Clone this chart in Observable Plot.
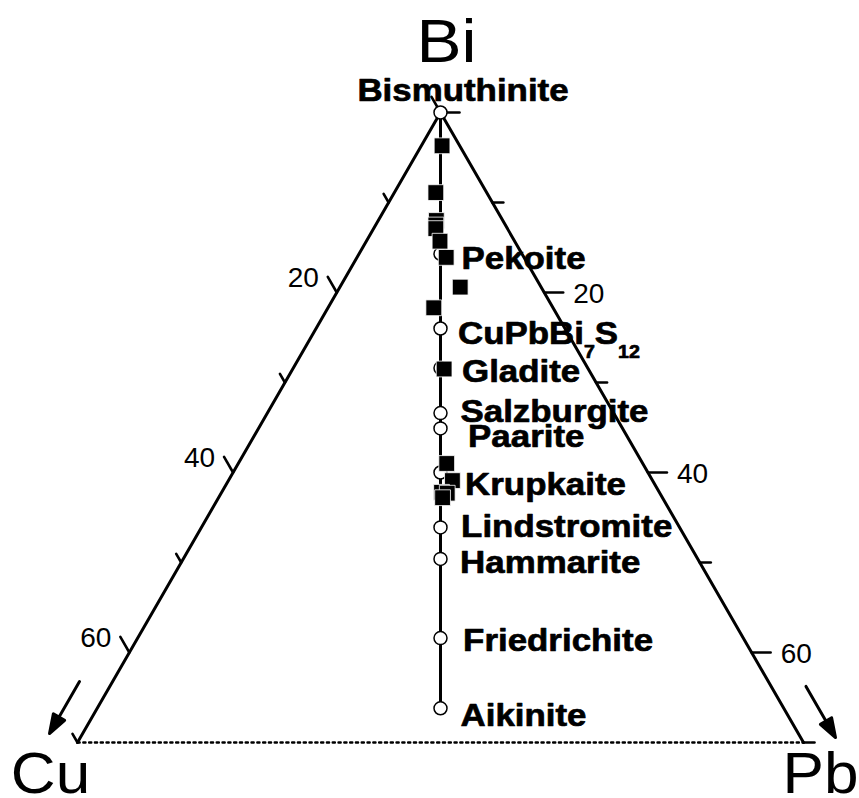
<!DOCTYPE html>
<html>
<head>
<meta charset="utf-8">
<script src="https://cdn.jsdelivr.net/npm/d3@7"></script>
<script src="https://cdn.jsdelivr.net/npm/@observablehq/plot@0.6"></script>
<style>
  html, body { margin: 0; padding: 0; background: #fff; }
  svg { display: block; }
</style>
</head>
<body>
<div id="chart"></div>
<script>
// ---------------- DATA (atomic %, Cu + Pb + Bi = 100) ----------------
// Reference minerals on the bismuthinite–aikinite join
const mineralNames = ["Bismuthinite", "Pekoite", "CuPbBi7S12", "Gladite", "Salzburgite", "Paarite",
                      "Krupkaite", "Lindstromite", "Hammarite", "Friedrichite", "Aikinite"];
const mineralCu = [0, 7.85, 12.0, 14.2, 16.7, 17.55, 20.0, 23.05, 24.8, 29.2, 33.1];
const mineralPb = [0, 7.85, 12.0, 14.2, 16.7, 17.55, 20.0, 23.05, 24.8, 29.2, 33.1];
const mineralBi = [100, 84.3, 76.0, 71.6, 66.6, 64.9, 60.0, 53.9, 50.4, 41.6, 33.8];

// Measured analyses (filled squares)
const analysisCu = [1.7, 4.9, 6.4, 6.7, 6.9, 7.2, 7.5, 7.8, 11.5, 13.9, 18.9, 19.3, 21.0, 20.5, 21.2];
const analysisPb = [2.0, 4.0, 5.6, 5.8, 6.0, 7.1, 8.6, 11.6, 10.2, 14.6, 20.1, 21.6, 21.2, 21.8, 21.6];
const analysisBi = [96.3, 91.1, 88.0, 87.5, 87.1, 85.7, 83.9, 80.6, 78.3, 71.5, 61.0, 59.1, 57.8, 57.7, 57.2];

// Corners of the (truncated) ternary: Bi 100 at top, Bi 30 along the base
const cornerNames = ["Bi", "Cu", "Pb"];
const cornerCu = [0, 70, 0];
const cornerPb = [0, 0, 70];
const cornerBi = [100, 30, 30];

// Axis ticks (Cu along left edge, Pb along right edge)
const majorTicks = [0, 20, 40, 60];
const minorTicks = [10, 30, 50, 70];
const labelTicks = [20, 40, 60];

// ---------------- LAYOUT / STYLE ----------------
const FONT = "'Liberation Sans', Arial, Helvetica, sans-serif";
const BI_BASE = 30;
const S3 = Math.sqrt(3) / 2;
function tern(cu, pb, bi) {
  const s = cu + pb + bi;
  cu = cu * 100 / s; pb = pb * 100 / s; bi = bi * 100 / s;
  return {X: pb + (bi - BI_BASE) / 2, Y: (bi - BI_BASE) * S3};
}
// label nudges in px: [dx, dy(baseline), anchor]
const labelNudge = {
  "Bismuthinite": [22.5, -12, "middle"],
  "Pekoite": [21, 15, "start"],
  "CuPbBi7S12": [17.5, 15, "start"],
  "Gladite": [21.5, 14, "start"],
  "Salzburgite": [20, 8.5, "start"],
  "Paarite": [27.6, 18.7, "start"],
  "Krupkaite": [24.6, 22, "start"],
  "Lindstromite": [20.6, 10, "start"],
  "Hammarite": [19.6, 14, "start"],
  "Friedrichite": [22.6, 13, "start"],
  "Aikinite": [20, 18, "start"]
};
const cornerNudge = {Bi: [6, -51, 62], Cu: [-27, 50, 57], Pb: [17, 50, 57]};

// ---------------- TABLES ----------------
const minerals = mineralNames.map((name, i) => ({name, ...tern(mineralCu[i], mineralPb[i], mineralBi[i])}));
const analyses = analysisBi.map((bi, i) => tern(analysisCu[i], analysisPb[i], bi));
const corners = cornerNames.map((name, i) => ({name, ...tern(cornerCu[i], cornerPb[i], cornerBi[i])}));
const C = Object.fromEntries(corners.map(d => [d.name, d]));
const leftTick = v => tern(v, 0, 100 - v);
const rightTick = v => tern(0, v, 100 - v);

const lineShape = {draw(ctx, l) { ctx.moveTo(0, 0); ctx.lineTo(0, -l); }};
const arrowShape = {draw(ctx, l) {
  const h = 19, w = 6.5;
  ctx.moveTo(0, 0); ctx.lineTo(0, -l + h * 0.6);
  ctx.moveTo(0, -l); ctx.lineTo(-w, -l + h); ctx.lineTo(w, -l + h); ctx.closePath();
}};

const marks = [
  // triangle edges
  Plot.line([C.Cu, C.Bi, C.Pb], {x: "X", y: "Y", stroke: "black", strokeWidth: 3, strokeLinejoin: "miter"}),
  Plot.line([C.Cu, C.Pb], {x: "X", y: "Y", stroke: "black", strokeWidth: 2.4, strokeDasharray: "2.2,3.6"}),
  // ticks
  Plot.vector(majorTicks.map(leftTick), {x: "X", y: "Y", length: 18, rotate: -30, anchor: "start", shape: lineShape, stroke: "black", strokeWidth: 2.6}),
  Plot.vector(minorTicks.map(leftTick), {x: "X", y: "Y", length: 10, rotate: -30, anchor: "start", shape: lineShape, stroke: "black", strokeWidth: 2.6}),
  Plot.vector(majorTicks.map(rightTick), {x: "X", y: "Y", length: 19, rotate: 90, anchor: "start", shape: lineShape, stroke: "black", strokeWidth: 2.6}),
  Plot.vector(minorTicks.map(rightTick), {x: "X", y: "Y", length: 11, rotate: 90, anchor: "start", shape: lineShape, stroke: "black", strokeWidth: 2.6}),
  // tick labels
  Plot.text(labelTicks.map(v => ({v, ...leftTick(v)})), {x: "X", y: "Y", text: d => String(d.v), dx: -18, dy: -6, textAnchor: "end", lineAnchor: "bottom", fontSize: 28, fontFamily: FONT, fill: "black"}),
  Plot.text(labelTicks.map(v => ({v, ...rightTick(v)})), {x: "X", y: "Y", text: d => String(d.v), dx: 29, dy: 10, textAnchor: "start", lineAnchor: "bottom", fontSize: 28, fontFamily: FONT, fill: "black"}),
  // direction arrows at Cu and Pb corners
  Plot.vector([C.Cu], {x: "X", y: "Y", length: 60, rotate: 210, anchor: "end", dx: -28, dy: -9, shape: arrowShape, stroke: "black", fill: "black", strokeWidth: 3}),
  Plot.vector([C.Pb], {x: "X", y: "Y", length: 59, rotate: 150, anchor: "end", dx: 32, dy: -5, shape: arrowShape, stroke: "black", fill: "black", strokeWidth: 3}),
  // join line
  Plot.line(minerals, {x: "X", y: "Y", stroke: "black", strokeWidth: 3}),
  // mineral points
  Plot.dot(minerals, {x: "X", y: "Y", r: 6.5, fill: "white", stroke: "black", strokeWidth: 1.5}),
  // analyses
  Plot.dot(analyses, {x: "X", y: "Y", symbol: "square", r: 8.9, fill: "black", stroke: "white", strokeWidth: 0.8}),
  // mineral labels
  ...minerals.map(m => {
    const [dx, dy, anchor] = labelNudge[m.name];
    return Plot.text([m], {x: "X", y: "Y", text: "name", dx, dy, textAnchor: anchor, lineAnchor: "bottom",
      fontSize: 32, fontWeight: "bold", fontFamily: FONT, fill: "black", stroke: "black", strokeWidth: 0.7});
  }),
  // corner labels
  ...corners.map(c => {
    const [dx, dy, fs] = cornerNudge[c.name];
    return Plot.text([c], {x: "X", y: "Y", text: "name", dx, dy, textAnchor: "middle", lineAnchor: "bottom",
      fontSize: fs, fontFamily: FONT, fill: "black"});
  })
];

const svg = Plot.plot({
  width: 859,
  height: 798,
  margin: 0,
  style: {background: "white", fontFamily: FONT},
  x: {domain: [0, 70], range: [77, 803], axis: null},
  y: {domain: [0, 70 * S3], range: [742, 112], axis: null},
  marks
});

// horizontal stretch of the bold labels and corner letters (as in the original artwork)
const stretch = new Set([...mineralNames, ...cornerNames]);
d3.select(svg).selectAll("text").each(function () {
  if (!stretch.has(this.textContent)) return;
  let tr = this.getAttribute("transform");
  if (!tr) {
    const x = parseFloat(this.getAttribute("x")) || 0, y = parseFloat(this.getAttribute("y")) || 0;
    this.removeAttribute("x"); this.removeAttribute("y");
    tr = `translate(${x},${y})`;
  }
  this.setAttribute("transform", tr + " scale(1.09,1)");
});
// subscripts in CuPbBi7S12
d3.select(svg).selectAll("text").filter(function () { return this.textContent === "CuPbBi7S12"; }).each(function () {
  const t = d3.select(this);
  t.text("");
  t.append("tspan").text("CuPbBi");
  t.append("tspan").attr("dy", 14).attr("font-size", 18).text("7");
  t.append("tspan").attr("dy", -14).text("S");
  t.append("tspan").attr("dy", 14).attr("font-size", 18).text("12");
});

document.getElementById("chart").appendChild(svg);
</script>
</body>
</html>
